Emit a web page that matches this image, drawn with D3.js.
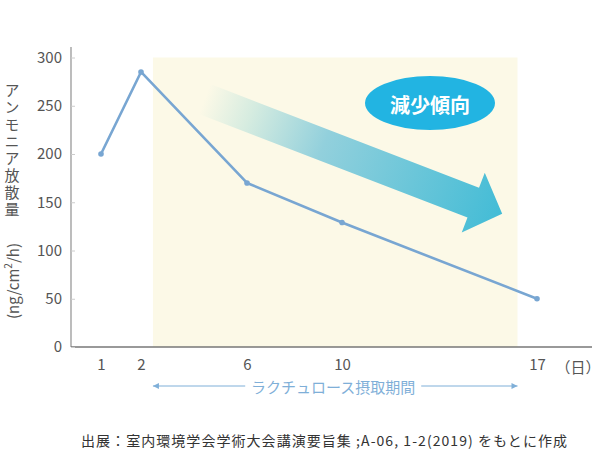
<!DOCTYPE html>
<html>
<head>
<meta charset="utf-8">
<script src="https://cdn.jsdelivr.net/npm/d3@7"></script>
<style>
  body { margin: 0; background: #fff; }
  text { font-family: "Noto Sans CJK JP", "Noto Sans", sans-serif; }
</style>
</head>
<body>
<div id="chart"></div>
<script>
// データ
const days = [1, 2, 6, 10, 17];
const values = [200, 285, 170, 129, 50];
const yTicks = [0, 50, 100, 150, 200, 250, 300];
const periodStart = 2.45;   // ラクチュロース摂取期間（背景の帯）
const periodEnd = 16.3;
const yLabelJa = 'アンモニア放散量';
const periodLabel = 'ラクチュロース摂取期間';
const trendLabel = '減少傾向';
const sourceNote = '出展：室内環境学会学術大会講演要旨集 ;A-06, 1-2(2019) をもとに作成';

const width = 600, height = 460;

const svg = d3.select('#chart')
  .append('svg')
  .attr('width', width)
  .attr('height', height);

// 横軸は等間隔ではないので区分的な線形スケール
const x = d3.scaleLinear()
  .domain(days)
  .range([101, 141, 247, 342, 537]);

const y = d3.scaleLinear()
  .domain([0, 300])
  .range([347, 57.5]);

const axisLeft = 71, axisRight = 592;

// 背景の帯
svg.append('rect')
  .attr('x', x(periodStart))
  .attr('y', y(300))
  .attr('width', x(periodEnd) - x(periodStart))
  .attr('height', y(0) - y(300))
  .attr('fill', '#fcf9e7');

// 矢印（減少傾向）
const defs = svg.append('defs');
const tail = [x(4.4), y(257)];
const tip = [x(15.75), y(138)];
const dx = tip[0] - tail[0], dy = tip[1] - tail[1];
const len = Math.hypot(dx, dy);
const ux = dx / len, uy = dy / len;
const px = -uy, py = ux;
const hw = 16, headW = 32, headL = 31;
const base = [tip[0] - ux * headL, tip[1] - uy * headL];
const pt = (p, s) => [p[0] + px * s, p[1] + py * s];
const arrowPts = [
  pt(tail, -hw), pt(base, -hw), pt(base, -headW), tip,
  pt(base, headW), pt(base, hw), pt(tail, hw)
];

const grad = defs.append('linearGradient')
  .attr('id', 'arrowGrad')
  .attr('gradientUnits', 'userSpaceOnUse')
  .attr('x1', tail[0]).attr('y1', tail[1])
  .attr('x2', tip[0]).attr('y2', tip[1]);
grad.append('stop').attr('offset', 0).attr('stop-color', '#fcf9e7');
grad.append('stop').attr('offset', 0.15).attr('stop-color', '#d6ece0');
grad.append('stop').attr('offset', 0.4).attr('stop-color', '#92d0dc');
grad.append('stop').attr('offset', 1).attr('stop-color', '#43bcd6');

svg.append('polygon')
  .attr('points', arrowPts.map(p => p.join(',')).join(' '))
  .attr('fill', 'url(#arrowGrad)');

// 楕円ラベル
svg.append('ellipse')
  .attr('cx', 430).attr('cy', 103)
  .attr('rx', 65).attr('ry', 27)
  .attr('fill', '#22b4e2');
svg.append('text')
  .attr('x', 430).attr('y', 104)
  .attr('text-anchor', 'middle')
  .attr('dominant-baseline', 'central')
  .attr('font-size', 20)
  .attr('font-weight', 'bold')
  .attr('fill', '#fff')
  .text(trendLabel);

// 軸
svg.append('line')
  .attr('x1', axisLeft).attr('x2', axisLeft)
  .attr('y1', 47).attr('y2', y(0))
  .attr('stroke', '#999').attr('stroke-width', 1.3);
svg.append('line')
  .attr('x1', axisLeft).attr('x2', axisRight)
  .attr('y1', y(0)).attr('y2', y(0))
  .attr('stroke', '#777').attr('stroke-width', 1.3);

const yAxis = svg.append('g')
  .attr('transform', `translate(${axisLeft},0)`)
  .call(d3.axisLeft(y).tickValues(yTicks).tickSize(-4).tickPadding(9));
yAxis.select('.domain').remove();
yAxis.selectAll('.tick line').attr('stroke', '#ccc');
yAxis.selectAll('.tick text')
  .attr('font-size', 15)
  .attr('fill', '#555')
  .attr('font-family', '"Noto Sans", sans-serif');

const xAxis = svg.append('g')
  .attr('transform', `translate(0,${y(0)})`)
  .call(d3.axisBottom(x).tickValues(days).tickFormat(d3.format('d')).tickSize(0).tickPadding(12));
xAxis.select('.domain').remove();
xAxis.selectAll('.tick text')
  .attr('font-size', 15)
  .attr('fill', '#555')
  .attr('font-family', '"Noto Sans", sans-serif');

svg.append('text')
  .attr('x', 578).attr('y', 366)
  .attr('text-anchor', 'middle')
  .attr('dominant-baseline', 'central')
  .attr('font-size', 15)
  .attr('fill', '#555')
  .text('（日）');

// 縦軸ラベル（縦書き）
svg.append('text')
  .attr('x', 12)
  .attr('y', 83)
  .style('writing-mode', 'vertical-rl')
  .style('text-orientation', 'upright')
  .style('letter-spacing', '2px')
  .attr('font-size', 15)
  .attr('fill', '#555')
  .text(yLabelJa);

const unit = svg.append('text')
  .attr('transform', 'translate(12,281) rotate(-90)')
  .attr('text-anchor', 'middle')
  .attr('dominant-baseline', 'central')
  .attr('font-size', 15)
  .attr('fill', '#555')
  .attr('font-family', '"Noto Sans", sans-serif');
unit.append('tspan').text('(ng/cm');
unit.append('tspan').attr('font-size', 10).attr('dy', -5).text('2');
unit.append('tspan').attr('dy', 5).text('/h)');

// 折れ線
const line = d3.line()
  .x((d, i) => x(days[i]))
  .y(d => y(d));

svg.append('path')
  .datum(values)
  .attr('d', line)
  .attr('fill', 'none')
  .attr('stroke', '#78a6d2')
  .attr('stroke-width', 2.6)
  .attr('stroke-linejoin', 'round');

svg.selectAll('.pt')
  .data(values)
  .enter()
  .append('circle')
  .attr('class', 'pt')
  .attr('cx', (d, i) => x(days[i]))
  .attr('cy', d => y(d))
  .attr('r', 2.8)
  .attr('fill', '#78a6d2');

// 期間の矢印
defs.append('marker')
  .attr('id', 'ah')
  .attr('viewBox', '0 0 10 10')
  .attr('refX', 10).attr('refY', 5)
  .attr('markerWidth', 8).attr('markerHeight', 6)
  .attr('markerUnits', 'userSpaceOnUse')
  .attr('orient', 'auto-start-reverse')
  .append('path')
  .attr('d', 'M0,0L10,5L0,10Z')
  .attr('fill', '#7fafd8');

const periodY = 386;
const labelMid = (x(periodStart) + x(periodEnd)) / 2;
svg.append('line')
  .attr('x1', x(periodStart)).attr('x2', labelMid - 90)
  .attr('y1', periodY).attr('y2', periodY)
  .attr('stroke', '#7fafd8').attr('stroke-width', 1)
  .attr('marker-start', 'url(#ah)');
svg.append('line')
  .attr('x1', labelMid + 86).attr('x2', x(periodEnd))
  .attr('y1', periodY).attr('y2', periodY)
  .attr('stroke', '#7fafd8').attr('stroke-width', 1)
  .attr('marker-end', 'url(#ah)');
svg.append('text')
  .attr('x', labelMid - 2).attr('y', periodY)
  .attr('text-anchor', 'middle')
  .attr('dominant-baseline', 'central')
  .attr('font-size', 15)
  .attr('fill', '#7fafd8')
  .text(periodLabel);

// 出典
svg.append('text')
  .attr('x', 81).attr('y', 440)
  .attr('dominant-baseline', 'central')
  .attr('font-size', 14)
  .attr('textLength', 486)
  .attr('lengthAdjust', 'spacing')
  .attr('fill', '#333')
  .text(sourceNote);
</script>
</body>
</html>
